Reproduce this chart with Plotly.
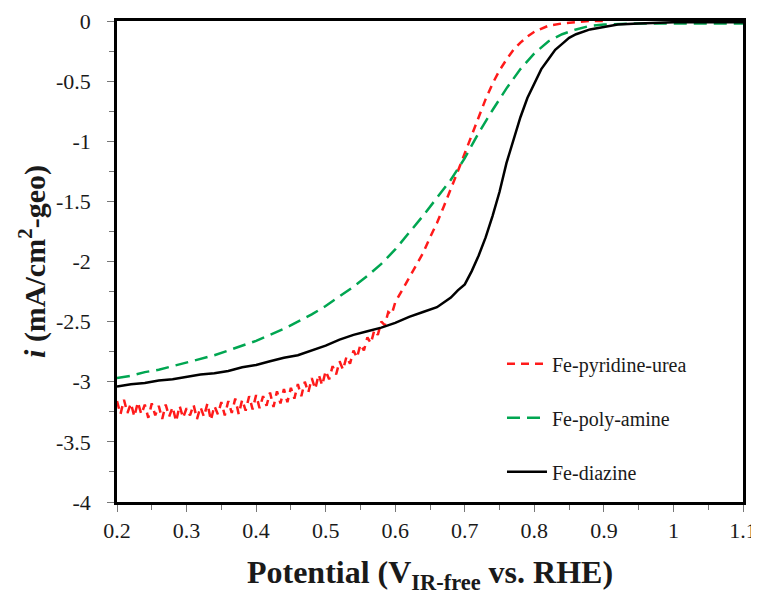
"""
Courbes de polarisation ORR pour trois catalyseurs Fe-N-C
"""

import plotly.graph_objects as go

# Fe-pyridine-urea (bruité aux faibles potentiels)
pot_pyr = [
    0.200, 0.205, 0.210, 0.215, 0.220, 0.225, 0.230, 0.235, 0.240, 0.245,
    0.250, 0.255, 0.260, 0.265, 0.270, 0.275, 0.280, 0.285, 0.290, 0.295,
    0.300, 0.305, 0.310, 0.315, 0.320, 0.325, 0.330, 0.335, 0.340, 0.345,
    0.350, 0.355, 0.360, 0.365, 0.370, 0.375, 0.380, 0.385, 0.390, 0.395,
    0.400, 0.405, 0.410, 0.415, 0.420, 0.425, 0.430, 0.435, 0.440, 0.445,
    0.450, 0.455, 0.460, 0.465, 0.470, 0.475, 0.480, 0.485, 0.490, 0.495,
    0.500, 0.505, 0.510, 0.515, 0.520, 0.525, 0.530, 0.535, 0.540, 0.545,
    0.550, 0.555, 0.560, 0.565, 0.570, 0.575, 0.580, 0.585, 0.590, 0.595,
    0.600, 0.610, 0.620, 0.630, 0.640, 0.650, 0.660, 0.670, 0.680, 0.690,
    0.700, 0.710, 0.720, 0.730, 0.740, 0.750, 0.760, 0.770, 0.780, 0.790,
    0.800, 0.820, 0.840, 0.860, 0.880, 0.900,
]
cur_pyr = [
    -3.16, -3.27, -3.15, -3.26, -3.18, -3.29, -3.17, -3.27, -3.19, -3.30,
    -3.18, -3.28, -3.20, -3.31, -3.19, -3.29, -3.21, -3.33, -3.20, -3.30,
    -3.22, -3.28, -3.19, -3.31, -3.21, -3.29, -3.18, -3.32, -3.20, -3.27,
    -3.17, -3.28, -3.16, -3.26, -3.14, -3.27, -3.15, -3.24, -3.12, -3.23,
    -3.11, -3.22, -3.12, -3.20, -3.09, -3.21, -3.08, -3.18, -3.06, -3.17,
    -3.05, -3.14, -3.02, -3.12, -3.00, -3.09, -2.97, -3.06, -2.94, -3.03,
    -2.91, -2.98, -2.87, -2.94, -2.83, -2.90, -2.79, -2.85, -2.74, -2.80,
    -2.69, -2.74, -2.63, -2.68, -2.57, -2.61, -2.50, -2.53, -2.42, -2.44,
    -2.34, -2.24, -2.14, -2.03, -1.93, -1.80, -1.68, -1.54, -1.40, -1.25,
    -1.10, -0.95, -0.80, -0.65, -0.52, -0.41, -0.32, -0.24, -0.18, -0.13,
    -0.09, -0.04, -0.02, -0.01, 0.00, 0.00,
]

# Fe-poly-amine
pot_amine = [
    0.20, 0.22, 0.24, 0.26, 0.28, 0.30, 0.32, 0.34, 0.36, 0.38,
    0.40, 0.42, 0.44, 0.46, 0.48, 0.50, 0.52, 0.54, 0.56, 0.58,
    0.60, 0.62, 0.64, 0.66, 0.68, 0.70, 0.72, 0.74, 0.76, 0.78,
    0.80, 0.82, 0.84, 0.86, 0.88, 0.90, 0.95, 1.00, 1.05, 1.10,
]
cur_amine = [
    -2.97, -2.95, -2.92, -2.90, -2.87, -2.84, -2.81, -2.78, -2.74, -2.70,
    -2.66, -2.61, -2.56, -2.50, -2.44, -2.37, -2.29, -2.21, -2.12, -2.02,
    -1.90, -1.76, -1.62, -1.47, -1.32, -1.14, -0.93, -0.74, -0.56, -0.40,
    -0.27, -0.17, -0.11, -0.07, -0.04, -0.03, -0.02, -0.02, -0.02, -0.02,
]

# Fe-diazine
pot_diaz = [
    0.20, 0.22, 0.24, 0.26, 0.28, 0.30, 0.32, 0.34, 0.36, 0.38,
    0.40, 0.42, 0.44, 0.46, 0.48, 0.50, 0.52, 0.54, 0.56, 0.58,
    0.60, 0.62, 0.64, 0.66, 0.68, 0.69, 0.70, 0.71, 0.72, 0.73,
    0.74, 0.75, 0.76, 0.77, 0.78, 0.79, 0.80, 0.81, 0.82, 0.83,
    0.84, 0.85, 0.86, 0.88, 0.90, 0.92, 0.95, 1.00, 1.05, 1.10,
]
cur_diaz = [
    -3.04, -3.02, -3.01, -2.99, -2.98, -2.96, -2.94, -2.93, -2.91, -2.88,
    -2.86, -2.83, -2.80, -2.78, -2.74, -2.70, -2.65, -2.61, -2.58, -2.55,
    -2.51, -2.46, -2.42, -2.38, -2.30, -2.24, -2.19, -2.08, -1.95, -1.80,
    -1.62, -1.42, -1.18, -0.98, -0.80, -0.64, -0.52, -0.40, -0.32, -0.24,
    -0.19, -0.14, -0.11, -0.07, -0.05, -0.03, -0.02, -0.01, -0.01, -0.01,
]

x_ticks = [0.2, 0.3, 0.4, 0.5, 0.6, 0.7, 0.8, 0.9, 1.0, 1.1]
x_labels = ["0.2", "0.3", "0.4", "0.5", "0.6", "0.7", "0.8", "0.9", "1", "1.1"]
y_ticks = [0, -0.5, -1, -1.5, -2, -2.5, -3, -3.5, -4]
y_labels = ["0", "-0.5", "-1", "-1.5", "-2", "-2.5", "-3", "-3.5", "-4"]

FONT = "Liberation Serif"

fig = go.Figure()

fig.add_trace(go.Scatter(
    x=pot_pyr, y=cur_pyr, mode="lines", name="Fe-pyridine-urea",
    legendgroup="a",
    line=dict(color="#ff1a1a", width=2.5, dash="8px,6px"),
))
fig.add_trace(go.Scatter(
    x=pot_amine, y=cur_amine, mode="lines", name="Fe-poly-amine",
    legendgroup="b",
    line=dict(color="#00a651", width=2.5, dash="13px,7px"),
))
fig.add_trace(go.Scatter(
    x=pot_diaz, y=cur_diaz, mode="lines", name="Fe-diazine",
    legendgroup="c",
    line=dict(color="black", width=2.5),
))

axis_common = dict(
    showgrid=False, zeroline=False, automargin=False,
    showline=True, linecolor="black", linewidth=2.5, mirror=True,
    ticks="outside", ticklen=7, tickwidth=1, tickcolor="#777777",
    tickfont=dict(family=FONT, size=22, color="#1a1a1a"),
)

fig.update_xaxes(
    range=[0.2, 1.1], tickvals=x_ticks, ticktext=x_labels,
    minor=dict(dtick=0.05, ticks="outside", ticklen=5, tickcolor="#777777"),
    title=dict(text="<b>Potential (V<sub>IR-free</sub> vs. RHE)</b>",
               font=dict(family=FONT, size=32, color="#1a1a1a"), standoff=21),
    **axis_common,
)
fig.update_yaxes(
    range=[-4, 0], tickvals=y_ticks, ticktext=y_labels, ticklabelstandoff=12,
    minor=dict(dtick=0.25, ticks="outside", ticklen=5, tickcolor="#777777"),
    title=dict(text="<b><i>i</i> (mA/cm<sup>2</sup>-geo)</b>",
               font=dict(family=FONT, size=30, color="#1a1a1a"), standoff=2),
    **axis_common,
)

# la page ajoute une marge de 8 px autour du graphique
fig.update_layout(
    width=751, height=587,
    margin=dict(l=109, r=16, t=13, b=93),
    plot_bgcolor="white", paper_bgcolor="white",
    legend=dict(
        x=0.615, y=0.328, xanchor="left", yanchor="top",
        font=dict(family=FONT, size=20, color="#1a1a1a"),
        bgcolor="rgba(0,0,0,0)", tracegroupgap=25, itemwidth=40,
    ),
)

fig.write_html("out.html")
